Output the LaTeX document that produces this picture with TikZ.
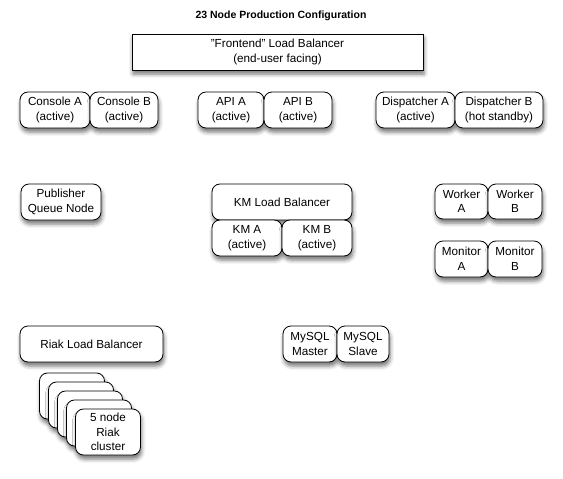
\documentclass[tikz,border=0pt]{standalone}
\usepackage{fontspec}
\setmainfont{Liberation Sans}
\usetikzlibrary{shadows.blur}

\tikzset{
	box/.style={draw, thick, rounded corners=8pt, fill=white, align=center, inner sep=0pt,
		minimum height=36pt, font=\fontsize{11.7}{14.5}\selectfont,
		blur shadow={shadow xshift=1pt, shadow yshift=-4pt, shadow blur radius=4pt, shadow opacity=55}},
	flatbox/.style={box, rounded corners=0pt}
}

\begin{document}
\begin{tikzpicture}[x=1pt,y=-1pt] % Produktionsaufbau
			\useasboundingbox (0,0) rectangle (563,479);

			\node (title) at (281,16) {\fontsize{10.5}{12}\selectfont\bfseries 23 Node Production Configuration};
			\node[flatbox, minimum width=291pt] (front) at (277.5,52) {"Frontend" Load Balancer\\(end-user facing)};

			\node[box, minimum width=70pt] (conA) at (55,110) {Console A\\(active)};
			\node[box, minimum width=68pt] (conB) at (124,110) {Console B\\(active)};
			\node[box, minimum width=66pt] (apiA) at (231,110) {API A\\(active)};
			\node[box, minimum width=68pt] (apiB) at (298,110) {API B\\(active)};
			\node[box, minimum width=79pt] (disA) at (415.5,110) {Dispatcher A\\(active)};
			\node[box, minimum width=88pt] (disB) at (499,110) {Dispatcher B\\(hot standby)};

			\node[box, minimum width=80pt] (pub) at (61,202) {Publisher\\Queue Node};
			\node[box, minimum width=140pt] (kmlb) at (282,202) {KM Load Balancer};
			\node[box, minimum width=70pt] (kmA) at (247,238) {KM A\\(active)};
			\node[box, minimum width=70pt] (kmB) at (317,238) {KM B\\(active)};

			\node[box, minimum width=53pt, minimum height=35pt] (wrkA) at (461.5,201.5) {Worker\\A};
			\node[box, minimum width=54pt, minimum height=35pt] (wrkB) at (515,201.5) {Worker\\B};
			\node[box, minimum width=53pt] (monA) at (461.5,259) {Monitor\\A};
			\node[box, minimum width=54pt] (monB) at (515,259) {Monitor\\B};

			\node[box, minimum width=143pt] (riaklb) at (91.5,344) {Riak Load Balancer};
			\node[box, minimum width=54pt] (sqlM) at (310,344) {MySQL\\Master};
			\node[box, minimum width=52pt] (sqlS) at (363,344) {MySQL\\Slave};

			\foreach \i in {0,...,3}
				\node[box, minimum width=65pt, minimum height=46pt] (riak\i) at (72+9*\i,396+9*\i) {};
			\node[box, minimum width=65pt, minimum height=46pt] (riak4) at (108,432) {5 node\\Riak\\cluster};
		\end{tikzpicture}
\end{document}
